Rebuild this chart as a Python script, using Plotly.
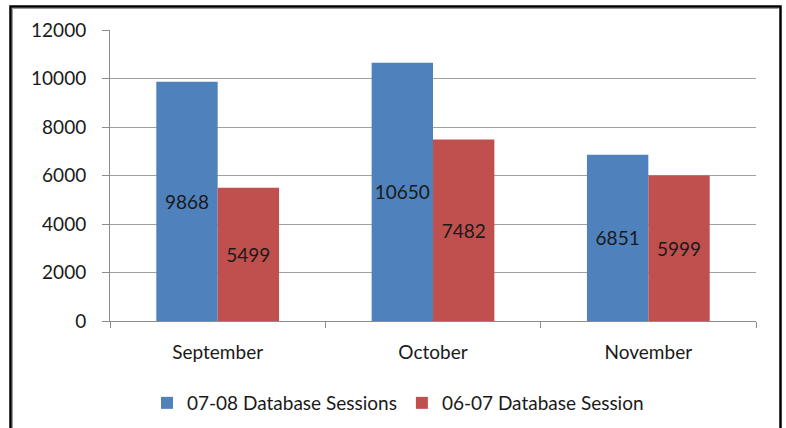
import plotly.graph_objects as go

months = ["September", "October", "November"]
sessions_0708 = [9868, 10650, 6851]
sessions_0607 = [5499, 7482, 5999]
series_names = ["07-08 Database Sessions", "06-07 Database Session"]
y_ticks = [0, 2000, 4000, 6000, 8000, 10000, 12000]

FONT = "Lato"
FS = 19
TXT = "#1a1a1a"

fig = go.Figure()
fig.add_trace(go.Bar(
    x=months, y=sessions_0708, name=series_names[0],
    marker=dict(color="#4F81BD", line=dict(width=0)),
    text=[str(v) for v in sessions_0708], textposition="inside",
    insidetextanchor="middle", textangle=0, constraintext="none",
    textfont=dict(family=FONT, size=FS, color=TXT),
))
fig.add_trace(go.Bar(
    x=months, y=sessions_0607, name=series_names[1],
    marker=dict(color="#C0504D", line=dict(width=0)),
    text=[str(v) for v in sessions_0607], textposition="inside",
    insidetextanchor="middle", textangle=0, constraintext="none",
    textfont=dict(family=FONT, size=FS, color=TXT),
))

W, H = 786, 428
L, R, T, B = 110, 30, 30, 107
pw, ph = W - L - R, H - T - B

def px(x):
    return (x - L) / pw

def py(y):
    return (H - B - y) / ph

shapes = [
    dict(type="rect", xref="paper", yref="paper",
         x0=px(10.5), x1=px(780.5), y0=py(6.5), y1=py(440),
         line=dict(color="black", width=2.5), fillcolor="rgba(0,0,0,0)"),
    dict(type="line", xref="paper", yref="paper",
         x0=px(12.5), x1=px(12.5), y0=py(8.5), y1=py(440),
         line=dict(color="#9a9a9a", width=1)),
    dict(type="line", xref="paper", yref="paper",
         x0=px(12.5), x1=px(778.5), y0=py(8.5), y1=py(8.5),
         line=dict(color="#9a9a9a", width=1)),
]

fig.update_layout(
    width=W, height=H,
    margin=dict(l=L, r=R, t=T, b=B, pad=0, autoexpand=False),
    paper_bgcolor="white", plot_bgcolor="white",
    barmode="group", bargap=0.43, bargroupgap=0,
    font=dict(family=FONT, size=FS, color=TXT),
    showlegend=True,
    legend=dict(orientation="h", x=px(398), xanchor="center",
                y=py(403), yanchor="middle",
                font=dict(family=FONT, size=FS, color=TXT),
                itemwidth=30, tracegroupgap=0, traceorder="normal",
                bgcolor="rgba(0,0,0,0)"),
    shapes=shapes,
    xaxis=dict(type="category", showline=True, linecolor="#8c8c8c", linewidth=1,
               automargin=False,
               ticks="outside", tickson="boundaries", ticklen=6, tickcolor="#8c8c8c",
               ticklabelstandoff=14,
               showgrid=False, tickfont=dict(family=FONT, size=FS, color=TXT)),
    yaxis=dict(range=[0, 12000], tickvals=y_ticks, ticktext=[str(v) for v in y_ticks],
               automargin=False,
               showline=True, linecolor="#8c8c8c", linewidth=1,
               ticks="outside", ticklen=7, tickcolor="#8c8c8c",
               ticklabelstandoff=12,
               showgrid=True, gridcolor="#a0a0a0", gridwidth=1,
               zeroline=False, tickfont=dict(family=FONT, size=FS, color=TXT)),
)

fig.write_html("out.html", config={"displayModeBar": False},
               post_script="document.body.style.margin='0';")
